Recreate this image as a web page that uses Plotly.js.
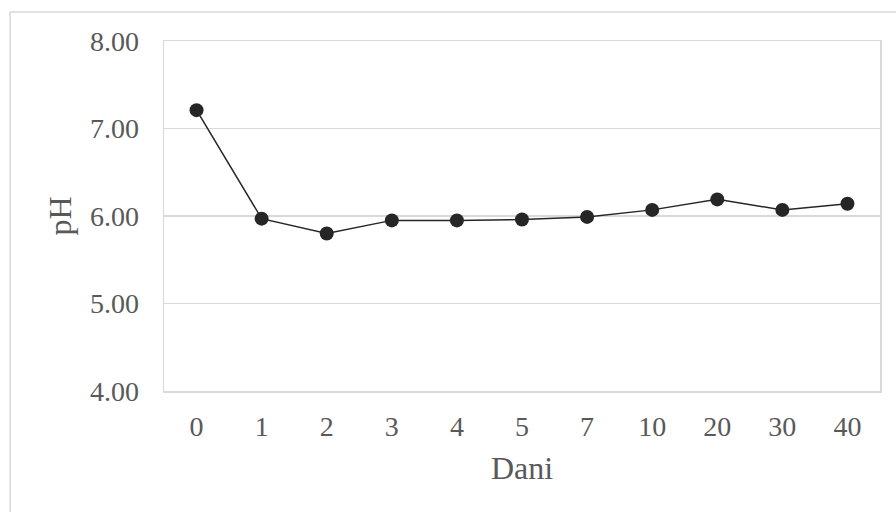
<!DOCTYPE html>
<html>
<head>
<meta charset="utf-8">
<script src="https://cdn.plot.ly/plotly-3.0.1.min.js"></script>
<style>html,body{margin:0;padding:0;background:#fff;}#chart{width:896px;height:512px;}</style>
</head>
<body>
<div id="chart"></div>
<script>
const days = ["0","1","2","3","4","5","7","10","20","30","40"];
const phValues = [7.21, 5.97, 5.80, 5.95, 5.95, 5.96, 5.99, 6.07, 6.19, 6.07, 6.14];
const yTickVals = [4, 5, 6, 7, 8];
const yTickText = ["4.00", "5.00", "6.00", "7.00", "8.00"];

const font = "'Liberation Serif', 'Times New Roman', serif";
const grey = "#595959";

const trace = {
  x: days,
  y: phValues,
  type: "scatter",
  mode: "lines+markers",
  line: {color: "#262626", width: 1.5},
  marker: {color: "#262626", size: 14},
  hoverinfo: "none"
};

const pw = 880.5 - 164, ph = 391 - 41;
const layout = {
  width: 896, height: 512,
  margin: {l: 164, r: 896 - 880.5, t: 41, b: 512 - 391},
  paper_bgcolor: "#fff", plot_bgcolor: "#fff",
  showlegend: false,
  font: {family: font, size: 28, color: grey},
  xaxis: {
    type: "category",
    range: [-0.5, days.length - 0.5],
    showline: true, mirror: true, linecolor: "#d9d9d9", linewidth: 1.5,
    showgrid: false, zeroline: false, ticks: "",
    ticklabelstandoff: 10,
    tickfont: {family: font, size: 28, color: grey},
    title: {text: "Dani", font: {family: font, size: 32, color: grey}, standoff: 15},
    automargin: false
  },
  yaxis: {
    range: [4, 8],
    tickvals: yTickVals, ticktext: yTickText,
    showline: true, mirror: true, linecolor: "#d9d9d9", linewidth: 1.5,
    showgrid: true, gridcolor: "#d9d9d9", gridwidth: 1.5,
    zeroline: false, ticks: "",
    ticklabelstandoff: 18,
    tickfont: {family: font, size: 28, color: grey},
    title: {text: "pH", font: {family: font, size: 32, color: grey}, standoff: 8},
    automargin: false
  },
  shapes: [{
    type: "rect", xref: "paper", yref: "paper", layer: "below",
    x0: (10 - 164) / pw, x1: (905 - 164) / pw,
    y0: (391 - 530) / ph, y1: (391 - 12) / ph,
    line: {color: "#d9d9d9", width: 1.5}, fillcolor: "rgba(0,0,0,0)"
  }]
};

Plotly.newPlot("chart", [trace], layout, {staticPlot: true, displayModeBar: false});
</script>
</body>
</html>
